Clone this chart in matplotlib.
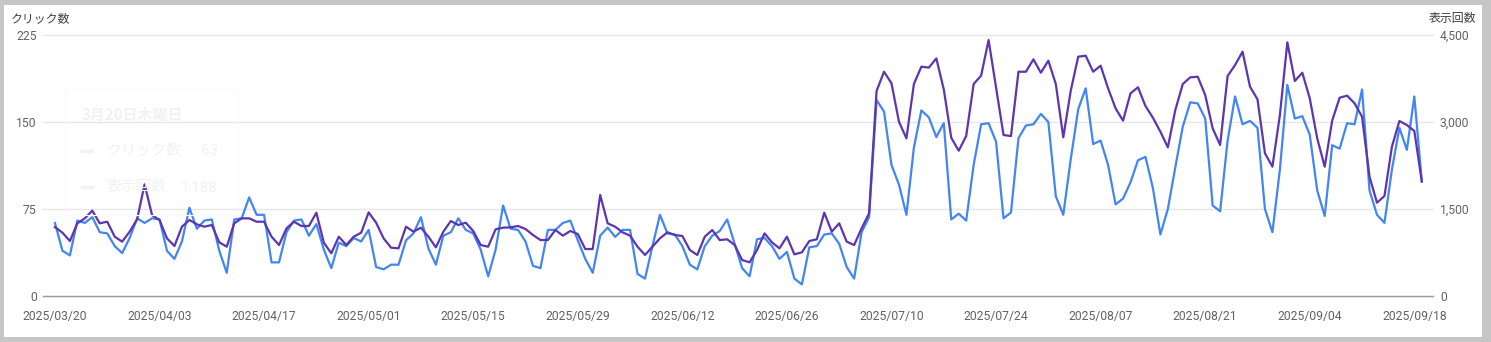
import pandas as pd
import matplotlib
matplotlib.use("Agg")
from matplotlib import pyplot as plt
from matplotlib.patches import Rectangle
from matplotlib.lines import Line2D

# daily values, 2025/03/20 .. 2025/09/19
start_date = "2025-03-20"

clicks = [63, 39, 35, 65, 63, 68, 55, 54, 43, 37, 50, 67, 63, 67, 66, 39, 32, 47, 76, 58,
          65, 66, 39, 20, 66, 67, 85, 70, 70, 29, 29, 55, 65, 66, 52, 62, 40, 24, 46, 43,
          50, 47, 57, 25, 23, 27, 27, 48, 54, 68, 41, 27, 52, 55, 67, 57, 54, 40, 17, 40,
          78, 58, 57, 47, 26, 24, 57, 57, 63, 65, 48, 32, 20, 52, 59, 51, 57, 57, 19, 15,
          43, 70, 54, 53, 43, 27, 23, 43, 52, 56, 66, 45, 24, 17, 49, 50, 43, 32, 38, 15,
          10, 42, 43, 53, 54, 45, 25, 15, 55, 68, 169, 159, 113, 96, 70, 128, 160, 154, 137, 149,
          66, 71, 65, 113, 148, 149, 133, 67, 72, 136, 147, 148, 157, 150, 86, 70, 118, 161, 179, 131,
          134, 113, 79, 84, 98, 117, 120, 93, 53, 75, 111, 146, 167, 166, 153, 78, 73, 134, 172, 148,
          151, 145, 75, 55, 109, 182, 153, 155, 139, 91, 69, 130, 127, 149, 148, 178, 91, 70, 63, 109,
          145, 126, 172, 99]

impressions = [1188, 1092, 948, 1253, 1339, 1471, 1253, 1281, 1023, 937, 1109, 1322, 1925, 1396, 1310,
               994, 862, 1195, 1310, 1236, 1195, 1224, 925, 850, 1253, 1339, 1339, 1281, 1281, 1023,
               879, 1167, 1281, 1207, 1207, 1436, 919, 736, 1023, 879, 1023, 1092, 1442, 1264, 994,
               833, 822, 1195, 1109, 1178, 1023, 839, 1109, 1293, 1224, 1264, 1121, 879, 850, 1150,
               1178, 1184, 1207, 1155, 1052, 965, 965, 1138, 1040, 1121, 1069, 810, 810, 1741, 1253,
               1195, 1098, 1040, 850, 707, 850, 994, 1098, 1052, 1035, 793, 707, 1023, 1138, 965,
               977, 880, 621, 580, 793, 1080, 925, 822, 1023, 718, 753, 948, 977, 1437, 1109,
               1253, 937, 879, 1167, 1425, 3534, 3867, 3667, 3005, 2718, 3655, 3954, 3937, 4097, 3563,
               2729, 2505, 2758, 3655, 3799, 4413, 3598, 2776, 2758, 3867, 3867, 4080, 3850, 4057, 3655,
               2736, 3540, 4126, 4143, 3867, 3971, 3580, 3235, 3023, 3494, 3598, 3276, 3074, 2833, 2563,
               3207, 3655, 3770, 3781, 3465, 2891, 2603, 3793, 3982, 4212, 3609, 3391, 2460, 2230, 3120,
               4373, 3707, 3850, 3408, 2718, 2230, 3023, 3419, 3454, 3322, 3092, 2057, 1609, 1724, 2575,
               3017, 2948, 2845, 1971]

tick_labels = ["2025/03/20", "2025/04/03", "2025/04/17", "2025/05/01", "2025/05/15",
               "2025/05/29", "2025/06/12", "2025/06/26", "2025/07/10", "2025/07/24",
               "2025/08/07", "2025/08/21", "2025/09/04", "2025/09/18"]
left_ticks = [0, 75, 150, 225]
right_ticks = [0, 1500, 3000, 4500]

dates = pd.date_range(start_date, periods=len(clicks), freq="D")
tick_dates = pd.to_datetime(tick_labels, format="%Y/%m/%d")

plt.rcParams['font.family'] = ['Roboto', 'Noto Sans CJK JP', 'DejaVu Sans']
jp = ['Noto Sans CJK JP', 'DejaVu Sans']

W, H = 1491, 342
fig = plt.figure(figsize=(W / 100, H / 100), dpi=100)
fig.patch.set_facecolor('#c6c6c6')
fig.add_artist(Rectangle((4 / W, 5 / H), 1478 / W, 332 / H, transform=fig.transFigure,
                         facecolor='white', edgecolor='none', zorder=0))

ax = fig.add_axes([43 / W, (H - 296) / H, 1390 / W, 261 / H])
ax.set_facecolor('none')
ax2 = ax.twinx()

ax.plot(dates, clicks, color='#4285f4', lw=1.6, solid_joinstyle='round')
ax2.plot(dates, impressions, color='#5e35b1', lw=1.6, solid_joinstyle='round')

ax.set_xlim(dates[0] - pd.Timedelta(days=1.6), dates[-1] + pd.Timedelta(days=1.5))
ax.set_ylim(0, 225)
ax2.set_ylim(0, 4500)

ax.set_xticks(tick_dates)
ax.set_xticklabels(tick_labels)
ax.set_yticks(left_ticks)
ax.set_yticklabels([str(v) for v in left_ticks])
ax2.set_yticks(right_ticks)
ax2.set_yticklabels([f"{v:,}" for v in right_ticks])

ax.grid(axis='y', color='#e6e6e6', lw=1.0)
ax.set_axisbelow(True)
for g in ax.get_ygridlines():
    g.set_clip_on(False)

for a in (ax, ax2):
    for s in a.spines.values():
        s.set_visible(False)
ax.spines['bottom'].set_visible(True)
ax.spines['bottom'].set_color('#9e9e9e')
ax.spines['bottom'].set_linewidth(1.0)

ax.tick_params(axis='x', length=0, pad=10, colors='#5f6368', labelsize=8.7)
ax.tick_params(axis='y', length=0, pad=4.5, colors='#5f6368', labelsize=8.7)
ax2.tick_params(axis='y', length=0, pad=5, colors='#5f6368', labelsize=8.7)

fig.text(11 / W, 1 - 18.5 / H, 'クリック数', fontsize=8.6, color='#3c4043',
         ha='left', va='center', family=jp)
fig.text(1476 / W, 1 - 18.5 / H, '表示回数', fontsize=8.6, color='#3c4043',
         ha='right', va='center', family=jp)

# faded tooltip left in the screenshot
ghost = '#f2f2f2'
fig.add_artist(Rectangle((65 / W, 1 - 215 / H), 172 / W, 127 / H, transform=fig.transFigure,
                         facecolor='none', edgecolor='#fbfbfb', lw=0.8, zorder=1))
fig.text(82 / W, 1 - 115 / H, '3月20日木曜日', fontsize=10.8, weight='bold', color=ghost,
         ha='left', va='center', family=jp)
fig.text(107 / W, 1 - 151 / H, 'クリック数', fontsize=10.8, color=ghost, ha='left', va='center', family=jp)
fig.text(218 / W, 1 - 151 / H, '63', fontsize=10.8, color=ghost, ha='right', va='center')
fig.text(107 / W, 1 - 187 / H, '表示回数', fontsize=10.8, color=ghost, ha='left', va='center', family=jp)
fig.text(218 / W, 1 - 187 / H, '1,188', fontsize=10.8, color=ghost, ha='right', va='center')
for yy in (151, 187):
    fig.add_artist(Line2D([82 / W, 92 / W], [1 - yy / H, 1 - yy / H], transform=fig.transFigure,
                          color=ghost, lw=2.5))

fig.savefig('out.png', dpi=100, facecolor=fig.get_facecolor())
